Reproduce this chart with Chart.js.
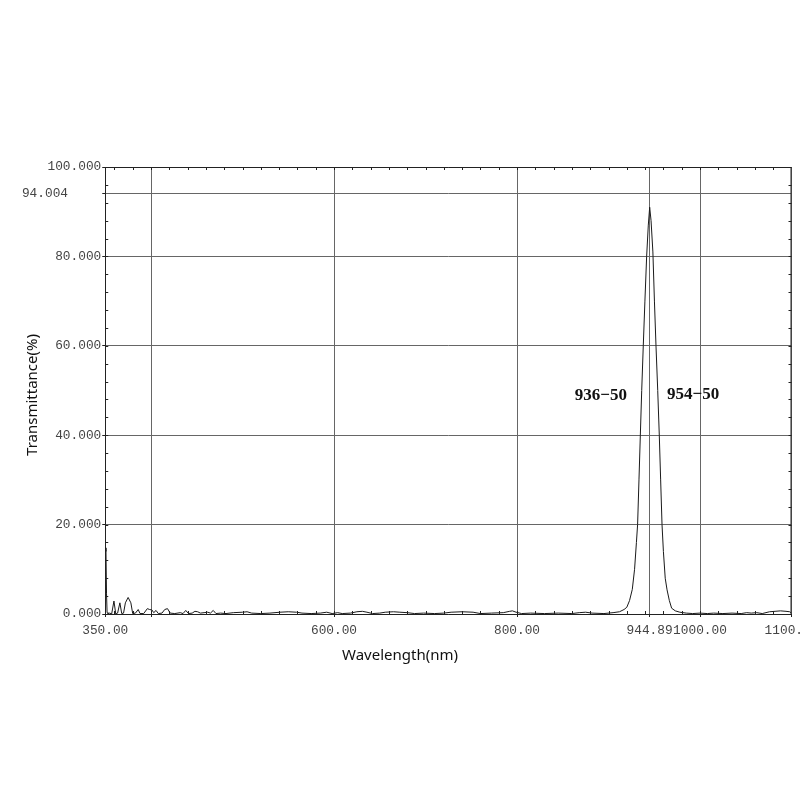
<!DOCTYPE html>
<html>
<head>
<meta charset="utf-8">
<script src="https://cdn.jsdelivr.net/npm/chart.js@4.4.1/dist/chart.umd.min.js"></script>
<style>
  html, body { margin: 0; padding: 0; background: #fff; overflow: hidden; width: 800px; height: 800px; }
  #wrap { width: 840px; height: 800px; }
</style>
</head>
<body>
<div id="wrap"><canvas id="c" width="840" height="800"></canvas></div>
<script>
// ---- data ----
const wavelength = [
  350, 350.8, 351.4, 352, 353, 355, 357, 359.5, 361.5, 363.5, 366, 368, 370, 372, 375, 378, 380, 383, 386, 388, 392,
  396, 398.5, 401, 403, 405.5, 408, 412, 415, 418, 421, 426, 432, 435, 438, 441, 445, 448, 451, 454, 458,
  462, 465, 468, 471, 476, 482, 490, 500, 505, 510, 520, 530, 541, 550, 559, 565, 575, 585, 592, 598,
  604, 609, 618, 625, 631, 636, 642, 650, 656, 665, 672, 680, 688, 698, 710, 720, 728, 740, 752, 760,
  772, 785, 792, 795, 799, 805, 815, 830, 845, 860, 868, 875, 882, 895, 905, 912, 917, 920, 923, 926,
  928.5, 930.5, 931.8, 933.3, 934.8, 936.3, 938, 939.8, 941.7, 943.5, 945, 946.5, 948.5, 950.2, 951.9, 953.8, 955.5, 957, 958.5, 960,
  962, 964, 966.5, 969, 973, 978, 985, 992, 1000, 1008, 1015, 1025, 1035, 1045, 1051, 1056, 1062, 1068, 1076, 1082,
  1088, 1094, 1098, 1100
];
const transmittance = [
  14.8, 14.0, 4.5, 0.3, 0.1, 0.2, 0, 2.9, 0, 0.2, 2.5, 0.1, 0.2, 2.5, 3.7, 2.5, 0.1, 0.2, 1.0, 0.1, 0.1,
  1.2, 1.0, 0.9, 0.3, 0.8, 0.1, 0.2, 1.0, 1.2, 0.2, 0.1, 0.3, 0.1, 0.8, 0.1, 0.2, 0.6, 0.5, 0.2, 0.3,
  0.4, 0.2, 0.8, 0.1, 0.2, 0.1, 0.3, 0.4, 0.5, 0.2, 0.1, 0.2, 0.4, 0.5, 0.4, 0.2, 0.1, 0.2, 0.4, 0.1,
  0.3, 0.1, 0.2, 0.5, 0.6, 0.4, 0.1, 0.2, 0.4, 0.5, 0.4, 0.3, 0.1, 0.2, 0.1, 0.2, 0.4, 0.5, 0.4, 0.1,
  0.2, 0.3, 0.6, 0.7, 0.4, 0.1, 0.2, 0.1, 0.2, 0.1, 0.3, 0.4, 0.2, 0.1, 0.3, 0.5, 1.0, 1.5, 3.0, 5.5,
  10, 16, 20, 30, 40, 50, 60, 70, 80, 87, 91.0, 88, 81, 70, 60, 50, 40, 30, 20, 14,
  8, 5.4, 3, 1.3, 0.7, 0.4, 0.2, 0.1, 0.2, 0.1, 0.2, 0.1, 0.2, 0.1, 0.3, 0.2, 0.3, 0.1, 0.5, 0.6,
  0.7, 0.6, 0.5, 0.2
];
const xTickValues = [350, 400, 600, 800, 944.89, 1000, 1100];
const xTickLabels = ['350.00', '', '600.00', '800.00', '944.89', '1000.00', '1100.00'];
const yTickValues = [0, 20, 40, 60, 80, 94.004, 100];
const yTickLabels = ['0.000', '20.000', '40.000', '60.000', '80.000', '', '100.000'];
const specialYLabel = { value: 94.004, text: '94.004' };
const xTitle = 'Wavelength(nm)';
const yTitle = 'Transmittance(%)';
const annotations = [
  { x: 920.2, y: 48.8, text: '936\u221250', align: 'right' },
  { x: 963.9, y: 49.0, text: '954\u221250', align: 'left' }
];
const xMinorStep = 20, xMinorStart = 360, xMinorEnd = 1080;
const yMinorStep = 4, yMinorStart = 4, yMinorEnd = 96;

const points = wavelength.map((w, i) => ({ x: w, y: transmittance[i] }));

const TICK_FONT = { family: '"Liberation Mono", "DejaVu Sans Mono", monospace', size: 12.8 };
const TITLE_CSS = '15px "Noto Sans", "DejaVu Sans", sans-serif';

const frame = {
  id: 'frame',
  afterDraw(chart) {
    const { ctx, chartArea: a, scales } = chart;
    const xs = scales.x, ys = scales.y;
    ctx.save();
    ctx.strokeStyle = '#222';
    ctx.lineWidth = 1;
    ctx.beginPath();
    ctx.moveTo(a.left, a.top + 0.5); ctx.lineTo(a.right, a.top + 0.5);
    ctx.moveTo(a.right - 0.5, a.top); ctx.lineTo(a.right - 0.5, a.bottom);
    for (let v = xMinorStart; v <= xMinorEnd; v += xMinorStep) {
      const px = Math.round(xs.getPixelForValue(v)) + 0.5;
      ctx.moveTo(px, a.top); ctx.lineTo(px, a.top + 3);
      ctx.moveTo(px, a.bottom); ctx.lineTo(px, a.bottom - 3);
    }
    for (let v = yMinorStart; v <= yMinorEnd; v += yMinorStep) {
      const py = Math.round(ys.getPixelForValue(v)) + 0.5;
      ctx.moveTo(a.left, py); ctx.lineTo(a.left + 3, py);
      ctx.moveTo(a.right, py); ctx.lineTo(a.right - 3, py);
    }
    ctx.stroke();

    // special y label
    ctx.fillStyle = '#444';
    ctx.font = TICK_FONT.size + 'px ' + TICK_FONT.family;
    ctx.textAlign = 'right';
    ctx.textBaseline = 'middle';
    ctx.fillText(specialYLabel.text, 68, ys.getPixelForValue(specialYLabel.value));

    // axis titles
    ctx.fillStyle = '#111';
    ctx.font = TITLE_CSS;
    ctx.textAlign = 'center';
    ctx.fillText(xTitle, 400, 656);
    ctx.save();
    ctx.translate(33, 395);
    ctx.rotate(-Math.PI / 2);
    ctx.fillText(yTitle, 0, 0);
    ctx.restore();

    // annotations
    ctx.fillStyle = '#111';
    ctx.font = 'bold 17px "Liberation Serif", "DejaVu Serif", serif';
    annotations.forEach(an => {
      ctx.textAlign = an.align;
      ctx.fillText(an.text, xs.getPixelForValue(an.x), ys.getPixelForValue(an.y));
    });
    ctx.restore();
  }
};

new Chart(document.getElementById('c'), {
  type: 'line',
  data: {
    datasets: [{
      data: points,
      borderColor: '#1a1a1a',
      borderWidth: 1,
      pointRadius: 0,
      tension: 0,
      fill: false
    }]
  },
  options: {
    responsive: false,
    animation: false,
    devicePixelRatio: 1,
    layout: { padding: { left: 24.6, top: 167, right: 48.5, bottom: 135.6 } },
    plugins: { legend: { display: false }, tooltip: { enabled: false } },
    scales: {
      x: {
        type: 'linear',
        min: 350, max: 1100,
        afterBuildTicks(scale) { scale.ticks = xTickValues.map(v => ({ value: v })); },
        afterFit(scale) { scale.height = 50.4; },
        ticks: {
          autoSkip: false, maxRotation: 0, minRotation: 0, padding: 6,
          color: '#444', font: TICK_FONT,
          callback(value) { const i = xTickValues.indexOf(value); return i >= 0 ? xTickLabels[i] : ''; }
        },
        grid: { color: '#666', lineWidth: 1, drawTicks: true, tickLength: 3, tickColor: '#222' },
        border: { display: true, color: '#222', width: 1 },
        title: { display: false }
      },
      y: {
        type: 'linear',
        min: 0, max: 100,
        afterBuildTicks(scale) { scale.ticks = yTickValues.map(v => ({ value: v })); },
        afterFit(scale) { scale.width = 80.65; },
        ticks: {
          autoSkip: false, padding: 1,
          color: '#444', font: TICK_FONT,
          callback(value) { const i = yTickValues.indexOf(value); return i >= 0 ? yTickLabels[i] : ''; }
        },
        grid: { color: '#666', lineWidth: 1, drawTicks: true, tickLength: 3, tickColor: '#222' },
        border: { display: true, color: '#222', width: 1 },
        title: { display: false }
      }
    }
  },
  plugins: [frame]
});
</script>
</body>
</html>
